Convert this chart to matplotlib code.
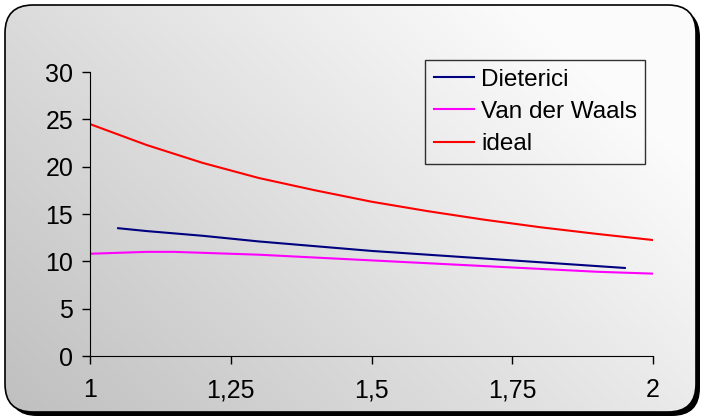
import numpy as np
import matplotlib
matplotlib.use("Agg")
import matplotlib.pyplot as plt
from matplotlib.patches import FancyBboxPatch

plt.rcParams['font.family'] = ['Liberation Sans', 'DejaVu Sans']

# data
x_ideal = [1.0, 1.1, 1.2, 1.3, 1.4, 1.5, 1.6, 1.7, 1.8, 1.9, 2.0]
y_ideal = [24.5, 22.3, 20.4, 18.8, 17.5, 16.3, 15.3, 14.4, 13.6, 12.9, 12.25]

x_dieterici = [1.05, 1.1, 1.2, 1.3, 1.4, 1.5, 1.6, 1.7, 1.8, 1.9, 1.95]
y_dieterici = [13.5, 13.2, 12.7, 12.1, 11.6, 11.1, 10.7, 10.3, 9.9, 9.5, 9.3]

x_vdw = [1.0, 1.1, 1.15, 1.2, 1.3, 1.4, 1.5, 1.6, 1.7, 1.8, 1.9, 2.0]
y_vdw = [10.8, 11.0, 11.0, 10.9, 10.7, 10.4, 10.1, 9.8, 9.5, 9.2, 8.9, 8.7]

x_ticks = [1, 1.25, 1.5, 1.75, 2]
x_labels = ['1', '1,25', '1,5', '1,75', '2']
y_ticks = [0, 5, 10, 15, 20, 25, 30]

W, H = 705, 419
fig = plt.figure(figsize=(W / 100, H / 100), dpi=100)

# background: rounded frame with shadow and diagonal gradient
bg = fig.add_axes([0, 0, 1, 1])
bg.set_xlim(0, W)
bg.set_ylim(0, H)
bg.axis('off')

shadow = FancyBboxPatch((9, 3), W - 14, H - 12,
                        boxstyle="round,pad=0,rounding_size=28",
                        fc='black', ec='none', zorder=0)
bg.add_patch(shadow)
frame = FancyBboxPatch((5, 7), W - 14, H - 12,
                       boxstyle="round,pad=0,rounding_size=28",
                       fc='none', ec='black', lw=1.2, zorder=3)
bg.add_patch(frame)

gx, gy = np.meshgrid(np.linspace(0, 1, 300), np.linspace(0, 1, 200))
v = np.clip(0.75 + 0.17 * gx + 0.11 * gy, 0, 0.985)
rgb = np.dstack([v, v, v])
img = bg.imshow(rgb, extent=[5, W - 9, 7, H - 5], origin='lower',
                aspect='auto', zorder=1)
img.set_clip_path(frame)

ax = fig.add_axes([90 / W, 63 / H, 563 / W, 284 / H])
ax.patch.set_alpha(0)
ax.plot(x_dieterici, y_dieterici, color='#000080', lw=1.5, label='Dieterici')
ax.plot(x_vdw, y_vdw, color='#ff00ff', lw=1.5, label='Van der Waals')
ax.plot(x_ideal, y_ideal, color='#ff0000', lw=1.5, label='ideal')

ax.set_xlim(1, 2)
ax.set_ylim(0, 30)
ax.set_xticks(x_ticks)
ax.set_xticklabels(x_labels)
ax.set_yticks(y_ticks)
ax.tick_params(axis='both', labelsize=18, length=6, width=1, color='black', pad=6)
ax.tick_params(axis='x', pad=10)
for s in ['top', 'right']:
    ax.spines[s].set_visible(False)

leg = ax.legend(loc='upper left', bbox_to_anchor=(335 / 563, 1.042), fontsize=17.5,
                frameon=True, fancybox=False, edgecolor='black', facecolor='none',
                handlelength=1.65, handletextpad=0.3, labelspacing=0.42,
                borderpad=0.35, borderaxespad=0)
leg.get_frame().set_linewidth(1)

fig.savefig('out.png', dpi=100)
